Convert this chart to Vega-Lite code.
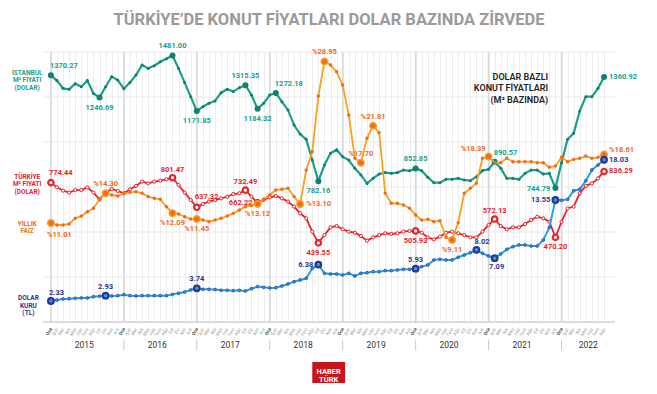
{
"$schema": "https://vega.github.io/schema/vega-lite/v6.json",
"width": 572, "height": 270,
"autosize": {"type": "none"},
"padding": {"left": 43, "top": 52, "right": 42, "bottom": 72},
"background": "white",
"config": {"view": {"stroke": null}, "font": "Roboto"},
"title": {"text": "TÜRKİYE’DE KONUT FİYATLARI DOLAR BAZINDA ZİRVEDE", "font": "Roboto", "fontSize": 16.5, "fontWeight": "bold", "color": "#9a9a9a", "anchor": "middle", "frame": "group", "offset": 14},
"datasets": {
"m": [
{"i":0,"ist":1370.27,"tr":774.44,"faiz":11.01,"usd":2.33},
{"i":1,"ist":1341,"tr":748,"faiz":10.78,"usd":2.44},
{"i":2,"ist":1298,"tr":730,"faiz":10.78,"usd":2.56},
{"i":3,"ist":1293,"tr":719,"faiz":10.89,"usd":2.59},
{"i":4,"ist":1324,"tr":733,"faiz":11.52,"usd":2.63},
{"i":5,"ist":1307,"tr":733,"faiz":11.78,"usd":2.67},
{"i":6,"ist":1341,"tr":748,"faiz":12.26,"usd":2.67},
{"i":7,"ist":1270,"tr":719,"faiz":12.63,"usd":2.81},
{"i":8,"ist":1246.69,"tr":681,"faiz":13.63,"usd":2.86},
{"i":9,"ist":1307,"tr":719,"faiz":14.30,"usd":2.93},
{"i":10,"ist":1363,"tr":739,"faiz":14.11,"usd":2.89},
{"i":11,"ist":1344,"tr":728,"faiz":14.00,"usd":2.93},
{"i":12,"ist":1296,"tr":715,"faiz":14.30,"usd":3.04},
{"i":13,"ist":1330,"tr":737,"faiz":14.41,"usd":2.93},
{"i":14,"ist":1372,"tr":756,"faiz":14.48,"usd":2.89},
{"i":15,"ist":1428,"tr":780,"faiz":14.30,"usd":2.93},
{"i":16,"ist":1409,"tr":770,"faiz":13.93,"usd":2.93},
{"i":17,"ist":1424,"tr":780,"faiz":13.74,"usd":2.93},
{"i":18,"ist":1446,"tr":785,"faiz":13.63,"usd":2.93},
{"i":19,"ist":1463,"tr":793,"faiz":12.81,"usd":2.93},
{"i":20,"ist":1481.00,"tr":801.47,"faiz":12.09,"usd":3.07},
{"i":21,"ist":1409,"tr":761,"faiz":12.00,"usd":3.19},
{"i":22,"ist":1330,"tr":719,"faiz":11.70,"usd":3.33},
{"i":23,"ist":1252,"tr":678,"faiz":11.44,"usd":3.56},
{"i":24,"ist":1171.85,"tr":637.32,"faiz":11.45,"usd":3.74},
{"i":25,"ist":1196,"tr":656,"faiz":11.33,"usd":3.63},
{"i":26,"ist":1215,"tr":669,"faiz":11.15,"usd":3.63},
{"i":27,"ist":1228,"tr":678,"faiz":11.33,"usd":3.60},
{"i":28,"ist":1274,"tr":687,"faiz":11.52,"usd":3.52},
{"i":29,"ist":1293,"tr":696,"faiz":11.78,"usd":3.52},
{"i":30,"ist":1280,"tr":711,"faiz":12.07,"usd":3.48},
{"i":31,"ist":1302,"tr":715,"faiz":12.44,"usd":3.52},
{"i":32,"ist":1315.35,"tr":732.49,"faiz":12.81,"usd":3.44},
{"i":33,"ist":1261,"tr":696,"faiz":12.95,"usd":3.70},
{"i":34,"ist":1184.32,"tr":662.22,"faiz":13.12,"usd":3.93},
{"i":35,"ist":1215,"tr":678,"faiz":13.63,"usd":3.85},
{"i":36,"ist":1261,"tr":693,"faiz":14.11,"usd":3.78},
{"i":37,"ist":1272.18,"tr":700,"faiz":14.67,"usd":3.81},
{"i":38,"ist":1224,"tr":687,"faiz":14.74,"usd":4.00},
{"i":39,"ist":1178,"tr":669,"faiz":14.85,"usd":4.22},
{"i":40,"ist":1094,"tr":641,"faiz":13.93,"usd":4.48},
{"i":41,"ist":1044,"tr":604,"faiz":13.10,"usd":4.67},
{"i":42,"ist":1015,"tr":576,"faiz":16.89,"usd":4.85},
{"i":43,"ist":900,"tr":502,"faiz":18.93,"usd":5.96},
{"i":44,"ist":782.16,"tr":439.55,"faiz":25.10,"usd":6.38},
{"i":45,"ist":872,"tr":483,"faiz":28.95,"usd":5.41},
{"i":46,"ist":937,"tr":526,"faiz":28.56,"usd":5.33},
{"i":47,"ist":957,"tr":533,"faiz":27.80,"usd":5.33},
{"i":48,"ist":918,"tr":515,"faiz":26.33,"usd":5.22},
{"i":49,"ist":900,"tr":502,"faiz":23.00,"usd":5.41},
{"i":50,"ist":854,"tr":496,"faiz":18.19,"usd":5.11},
{"i":51,"ist":817,"tr":478,"faiz":17.70,"usd":5.41},
{"i":52,"ist":770,"tr":452,"faiz":20.41,"usd":5.48},
{"i":53,"ist":798,"tr":470,"faiz":21.81,"usd":5.59},
{"i":54,"ist":822,"tr":483,"faiz":21.04,"usd":5.59},
{"i":55,"ist":830,"tr":493,"faiz":14.30,"usd":5.70},
{"i":56,"ist":826,"tr":489,"faiz":13.19,"usd":5.70},
{"i":57,"ist":830,"tr":493,"faiz":13.19,"usd":5.78},
{"i":58,"ist":844,"tr":502,"faiz":13.00,"usd":5.85},
{"i":59,"ist":840,"tr":506,"faiz":12.63,"usd":5.85},
{"i":60,"ist":852.85,"tr":505.93,"faiz":11.89,"usd":5.93},
{"i":61,"ist":840,"tr":496,"faiz":11.33,"usd":6.15},
{"i":62,"ist":804,"tr":470,"faiz":11.41,"usd":6.33},
{"i":63,"ist":774,"tr":459,"faiz":11.15,"usd":6.89},
{"i":64,"ist":774,"tr":474,"faiz":11.26,"usd":6.96},
{"i":65,"ist":793,"tr":496,"faiz":9.41,"usd":6.89},
{"i":66,"ist":793,"tr":502,"faiz":9.11,"usd":6.89},
{"i":67,"ist":798,"tr":493,"faiz":11.04,"usd":7.19},
{"i":68,"ist":789,"tr":483,"faiz":14.30,"usd":7.44},
{"i":69,"ist":785,"tr":470,"faiz":14.85,"usd":7.70},
{"i":70,"ist":807,"tr":470,"faiz":15.41,"usd":8.02},
{"i":71,"ist":841,"tr":502,"faiz":18.19,"usd":7.63},
{"i":72,"ist":848,"tr":539,"faiz":18.39,"usd":7.33},
{"i":73,"ist":890.57,"tr":572.13,"faiz":17.70,"usd":7.09},
{"i":74,"ist":854,"tr":533,"faiz":17.70,"usd":7.56},
{"i":75,"ist":798,"tr":515,"faiz":18.19,"usd":8.07},
{"i":76,"ist":798,"tr":526,"faiz":17.81,"usd":8.37},
{"i":77,"ist":793,"tr":526,"faiz":17.81,"usd":8.56},
{"i":78,"ist":826,"tr":544,"faiz":17.81,"usd":8.56},
{"i":79,"ist":844,"tr":567,"faiz":17.81,"usd":8.44},
{"i":80,"ist":844,"tr":585,"faiz":17.70,"usd":8.44},
{"i":81,"ist":822,"tr":576,"faiz":17.70,"usd":9.11},
{"i":82,"ist":826,"tr":557,"faiz":17.19,"usd":10.52},
{"i":83,"ist":744.79,"tr":470.20,"faiz":17.33,"usd":13.55},
{"i":84,"ist":885,"tr":557,"faiz":18.30,"usd":13.52},
{"i":85,"ist":1015,"tr":631,"faiz":17.81,"usd":13.63},
{"i":86,"ist":1048,"tr":641,"faiz":18.07,"usd":14.59},
{"i":87,"ist":1172,"tr":715,"faiz":18.19,"usd":14.74},
{"i":88,"ist":1252,"tr":756,"faiz":18.44,"usd":15.70},
{"i":89,"ist":1252,"tr":770,"faiz":18.19,"usd":16.89},
{"i":90,"ist":1298,"tr":798,"faiz":18.30,"usd":17.44},
{"i":91,"ist":1360.92,"tr":836.29,"faiz":18.61,"usd":18.03}
],
"years": [{"i":5.5,"year":"2015"},{"i":17.5,"year":"2016"},{"i":29.5,"year":"2017"},{"i":41.5,"year":"2018"},{"i":53.5,"year":"2019"},{"i":65.5,"year":"2020"},{"i":77.5,"year":"2021"},{"i":88.4,"year":"2022"}],
"jan": [{"i":0},{"i":12},{"i":24},{"i":36},{"i":48},{"i":60},{"i":72},{"i":84}],
"seps": [{"i":12},{"i":24},{"i":36},{"i":48},{"i":60},{"i":72},{"i":84}],
"hgrid": [{"r":0},{"r":5},{"r":10},{"r":15},{"r":20},{"r":25},{"r":30}]
},
"data": {"name": "m"},
"encoding": {
"x": {"field": "i", "type": "quantitative", "scale": {"domain": [-1.3, 92.8], "nice": false, "zero": false},
 "axis": {"title": null, "values": [0,1,2,3,4,5,6,7,8,9,10,11,12,13,14,15,16,17,18,19,20,21,22,23,24,25,26,27,28,29,30,31,32,33,34,35,36,37,38,39,40,41,42,43,44,45,46,47,48,49,50,51,52,53,54,55,56,57,58,59,60,61,62,63,64,65,66,67,68,69,70,71,72,73,74,75,76,77,78,79,80,81,82,83,84,85,86,87,88,89,90,91],
  "labelExpr": "['Oca','Şub','Mar','Nis','May','Haz','Tem','Ağu','Eyl','Eki','Kas','Ara'][datum.value % 12]",
  "labelAngle": -60, "labelFontSize": 4.5, "labelFont": "Roboto", "labelPadding": 6, "labelOverlap": false, "labelFlush": false, "labelBound": false,
  "labelColor": {"condition": {"test": "datum.value % 12 === 0", "value": "#333333"}, "value": "#9a9a9a"},
  "labelFontWeight": {"condition": {"test": "datum.value % 12 === 0", "value": "bold"}, "value": "normal"},
  "ticks": false, "domain": false, "grid": true, "gridColor": "#e9e9e9", "gridWidth": 0.8, "gridOpacity": 1}}
},
"layer": [
 {"data": {"name": "jan"}, "mark": {"type": "rule", "color": "#d9d9d9", "strokeWidth": 1.6},
  "encoding": {"y": {"datum": 0, "type": "quantitative", "scale": {"domain": [0, 30], "nice": false, "zero": false}, "axis": null}, "y2": {"datum": 30}}},
 {"data": {"name": "hgrid"}, "mark": {"type": "rule", "color": "#e6e6e6", "strokeWidth": 0.9},
  "encoding": {"x": null, "y": {"field": "r", "type": "quantitative", "scale": {"domain": [0, 30], "nice": false, "zero": false}, "axis": null}}},
 {"data": {"name": "hgrid"}, "transform": [{"filter": "datum.r === 0"}], "mark": {"type": "rule", "color": "#d4d4d4", "strokeWidth": 1.5},
  "encoding": {"x": null, "y": {"field": "r", "type": "quantitative", "scale": {"domain": [0, 30], "nice": false, "zero": false}, "axis": null}}},
 {"mark": {"type": "line", "color": "#1aa08a", "strokeWidth": 2.2},
  "encoding": {"y": {"field": "ist", "type": "quantitative", "scale": {"domain": [0, 1500], "nice": false, "zero": false}, "axis": null}}},
 {"mark": {"type": "point", "shape": "circle", "filled": true, "size": 9, "color": "#137f6e", "opacity": 1},
  "encoding": {"y": {"field": "ist", "type": "quantitative", "scale": {"domain": [0, 1500], "nice": false, "zero": false}, "axis": null}}},
 {"transform": [{"filter": {"field": "i", "oneOf": [0,8,20,24,32,34,37,44,60,73,83,91]}}],
  "mark": {"type": "point", "shape": "circle", "filled": true, "size": 36, "color": "#137f6e", "opacity": 1},
  "encoding": {"y": {"field": "ist", "type": "quantitative", "scale": {"domain": [0, 1500], "nice": false, "zero": false}, "axis": null}}},
 {"transform": [{"filter": {"field": "i", "oneOf": [20,32,60]}}],
  "mark": {"type": "text", "fontWeight": "bold", "fontSize": 7.5, "color": "#1aa08a", "dy": -9, "align": "center", "baseline": "middle"},
  "encoding": {"y": {"field": "ist", "type": "quantitative", "scale": {"domain": [0, 1500], "nice": false, "zero": false}, "axis": null}, "text": {"field": "ist", "type": "quantitative", "format": ".2f"}}},
 {"transform": [{"filter": {"field": "i", "oneOf": [8,24,34,44]}}],
  "mark": {"type": "text", "fontWeight": "bold", "fontSize": 7.5, "color": "#1aa08a", "dy": 10, "align": "center", "baseline": "middle"},
  "encoding": {"y": {"field": "ist", "type": "quantitative", "scale": {"domain": [0, 1500], "nice": false, "zero": false}, "axis": null}, "text": {"field": "ist", "type": "quantitative", "format": ".2f"}}},
 {"transform": [{"filter": {"field": "i", "oneOf": [0,37,73]}}],
  "mark": {"type": "text", "fontWeight": "bold", "fontSize": 7.5, "color": "#1aa08a", "dx": -1, "dy": -9, "align": "left", "baseline": "middle"},
  "encoding": {"y": {"field": "ist", "type": "quantitative", "scale": {"domain": [0, 1500], "nice": false, "zero": false}, "axis": null}, "text": {"field": "ist", "type": "quantitative", "format": ".2f"}}},
 {"transform": [{"filter": {"field": "i", "oneOf": [83]}}],
  "mark": {"type": "text", "fontWeight": "bold", "fontSize": 7.5, "color": "#1aa08a", "dx": -5, "dy": 1, "align": "right", "baseline": "middle"},
  "encoding": {"y": {"field": "ist", "type": "quantitative", "scale": {"domain": [0, 1500], "nice": false, "zero": false}, "axis": null}, "text": {"field": "ist", "type": "quantitative", "format": ".2f"}}},
 {"transform": [{"filter": {"field": "i", "oneOf": [91]}}],
  "mark": {"type": "text", "fontWeight": "bold", "fontSize": 7.5, "color": "#1aa08a", "dx": 5, "align": "left", "baseline": "middle"},
  "encoding": {"y": {"field": "ist", "type": "quantitative", "scale": {"domain": [0, 1500], "nice": false, "zero": false}, "axis": null}, "text": {"field": "ist", "type": "quantitative", "format": ".2f"}}},

 {"mark": {"type": "line", "color": "#e8232b", "strokeWidth": 1.8},
  "encoding": {"y": {"field": "tr", "type": "quantitative", "scale": {"domain": [0, 1500], "nice": false, "zero": false}, "axis": null}}},
 {"mark": {"type": "point", "shape": "circle", "filled": true, "size": 10, "fill": "white", "stroke": "#e8232b", "strokeWidth": 1, "opacity": 1},
  "encoding": {"y": {"field": "tr", "type": "quantitative", "scale": {"domain": [0, 1500], "nice": false, "zero": false}, "axis": null}}},
 {"transform": [{"filter": {"field": "i", "oneOf": [0,20,24,32,34,44,60,73,83,91]}}],
  "mark": {"type": "point", "shape": "circle", "filled": true, "size": 30, "fill": "white", "stroke": "#e8232b", "strokeWidth": 2.2, "opacity": 1},
  "encoding": {"y": {"field": "tr", "type": "quantitative", "scale": {"domain": [0, 1500], "nice": false, "zero": false}, "axis": null}}},
 {"transform": [{"filter": {"field": "i", "oneOf": [20,32,73]}}],
  "mark": {"type": "text", "fontWeight": "bold", "fontSize": 7.5, "color": "#e8232b", "dy": -8, "align": "center", "baseline": "middle"},
  "encoding": {"y": {"field": "tr", "type": "quantitative", "scale": {"domain": [0, 1500], "nice": false, "zero": false}, "axis": null}, "text": {"field": "tr", "type": "quantitative", "format": ".2f"}}},
 {"transform": [{"filter": {"field": "i", "oneOf": [44,60,83]}}],
  "mark": {"type": "text", "fontWeight": "bold", "fontSize": 7.5, "color": "#e8232b", "dy": 10, "align": "center", "baseline": "middle"},
  "encoding": {"y": {"field": "tr", "type": "quantitative", "scale": {"domain": [0, 1500], "nice": false, "zero": false}, "axis": null}, "text": {"field": "tr", "type": "quantitative", "format": ".2f"}}},
 {"transform": [{"filter": {"field": "i", "oneOf": [0,24]}}],
  "mark": {"type": "text", "fontWeight": "bold", "fontSize": 7.5, "color": "#e8232b", "dx": -2, "dy": -10, "align": "left", "baseline": "middle"},
  "encoding": {"y": {"field": "tr", "type": "quantitative", "scale": {"domain": [0, 1500], "nice": false, "zero": false}, "axis": null}, "text": {"field": "tr", "type": "quantitative", "format": ".2f"}}},
 {"transform": [{"filter": {"field": "i", "oneOf": [34]}}],
  "mark": {"type": "text", "fontWeight": "bold", "fontSize": 7.5, "color": "#e8232b", "dx": -5, "align": "right", "baseline": "middle"},
  "encoding": {"y": {"field": "tr", "type": "quantitative", "scale": {"domain": [0, 1500], "nice": false, "zero": false}, "axis": null}, "text": {"field": "tr", "type": "quantitative", "format": ".2f"}}},
 {"transform": [{"filter": {"field": "i", "oneOf": [91]}}],
  "mark": {"type": "text", "fontWeight": "bold", "fontSize": 7.5, "color": "#e8232b", "dx": 5, "align": "left", "baseline": "middle"},
  "encoding": {"y": {"field": "tr", "type": "quantitative", "scale": {"domain": [0, 1500], "nice": false, "zero": false}, "axis": null}, "text": {"field": "tr", "type": "quantitative", "format": ".2f"}}},

 {"mark": {"type": "line", "color": "#f8a11f", "strokeWidth": 1.8},
  "encoding": {"y": {"field": "faiz", "type": "quantitative", "scale": {"domain": [0, 30], "nice": false, "zero": false}, "axis": null}}},
 {"mark": {"type": "point", "shape": "circle", "filled": true, "size": 12, "color": "#f26a21", "opacity": 1},
  "encoding": {"y": {"field": "faiz", "type": "quantitative", "scale": {"domain": [0, 30], "nice": false, "zero": false}, "axis": null}}},
 {"transform": [{"filter": {"field": "i", "oneOf": [0,9,20,24,34,41,45,51,53,66,72,91]}}],
  "mark": {"type": "point", "shape": "circle", "filled": true, "size": 42, "fill": "#f26a21", "stroke": "#f8a11f", "strokeWidth": 1.5, "opacity": 1},
  "encoding": {"y": {"field": "faiz", "type": "quantitative", "scale": {"domain": [0, 30], "nice": false, "zero": false}, "axis": null}}},
 {"transform": [{"filter": {"field": "i", "oneOf": [9,45,51,53]}}, {"calculate": "'%' + format(datum.faiz, '.2f')", "as": "lab"}],
  "mark": {"type": "text", "fontWeight": "bold", "fontSize": 7.5, "color": "#f26a21", "dy": -9, "align": "center", "baseline": "middle"},
  "encoding": {"y": {"field": "faiz", "type": "quantitative", "scale": {"domain": [0, 30], "nice": false, "zero": false}, "axis": null}, "text": {"field": "lab"}}},
 {"transform": [{"filter": {"field": "i", "oneOf": [20,24,34,66]}}, {"calculate": "'%' + format(datum.faiz, '.2f')", "as": "lab"}],
  "mark": {"type": "text", "fontWeight": "bold", "fontSize": 7.5, "color": "#f26a21", "dy": 10, "align": "center", "baseline": "middle"},
  "encoding": {"y": {"field": "faiz", "type": "quantitative", "scale": {"domain": [0, 30], "nice": false, "zero": false}, "axis": null}, "text": {"field": "lab"}}},
 {"transform": [{"filter": {"field": "i", "oneOf": [0]}}, {"calculate": "'%' + format(datum.faiz, '.2f')", "as": "lab"}],
  "mark": {"type": "text", "fontWeight": "bold", "fontSize": 7.5, "color": "#f26a21", "dx": -4, "dy": 12, "align": "left", "baseline": "middle"},
  "encoding": {"y": {"field": "faiz", "type": "quantitative", "scale": {"domain": [0, 30], "nice": false, "zero": false}, "axis": null}, "text": {"field": "lab"}}},
 {"transform": [{"filter": {"field": "i", "oneOf": [41]}}, {"calculate": "'%' + format(datum.faiz, '.2f')", "as": "lab"}],
  "mark": {"type": "text", "fontWeight": "bold", "fontSize": 7.5, "color": "#f26a21", "dx": 6, "align": "left", "baseline": "middle"},
  "encoding": {"y": {"field": "faiz", "type": "quantitative", "scale": {"domain": [0, 30], "nice": false, "zero": false}, "axis": null}, "text": {"field": "lab"}}},
 {"transform": [{"filter": {"field": "i", "oneOf": [91]}}, {"calculate": "'%' + format(datum.faiz, '.2f')", "as": "lab"}],
  "mark": {"type": "text", "fontWeight": "bold", "fontSize": 7.5, "color": "#f26a21", "dx": 5, "dy": -5, "align": "left", "baseline": "middle"},
  "encoding": {"y": {"field": "faiz", "type": "quantitative", "scale": {"domain": [0, 30], "nice": false, "zero": false}, "axis": null}, "text": {"field": "lab"}}},
 {"transform": [{"filter": {"field": "i", "oneOf": [72]}}, {"calculate": "'%' + format(datum.faiz, '.2f')", "as": "lab"}],
  "mark": {"type": "text", "fontWeight": "bold", "fontSize": 7.5, "color": "#f26a21", "dx": -3, "dy": -7, "align": "right", "baseline": "middle"},
  "encoding": {"y": {"field": "faiz", "type": "quantitative", "scale": {"domain": [0, 30], "nice": false, "zero": false}, "axis": null}, "text": {"field": "lab"}}},

 {"mark": {"type": "line", "color": "#27a3e3", "strokeWidth": 2},
  "encoding": {"y": {"field": "usd", "type": "quantitative", "scale": {"domain": [0, 30], "nice": false, "zero": false}, "axis": null}}},
 {"mark": {"type": "point", "shape": "circle", "filled": true, "size": 8, "fill": "#27a3e3", "stroke": "#2e3591", "strokeWidth": 0.7, "opacity": 1},
  "encoding": {"y": {"field": "usd", "type": "quantitative", "scale": {"domain": [0, 30], "nice": false, "zero": false}, "axis": null}}},
 {"transform": [{"filter": {"field": "i", "oneOf": [0,9,24,44,60,70,73,83,91]}}],
  "mark": {"type": "point", "shape": "circle", "filled": true, "size": 32, "fill": "#27a3e3", "stroke": "#2e3591", "strokeWidth": 2.2, "opacity": 1},
  "encoding": {"y": {"field": "usd", "type": "quantitative", "scale": {"domain": [0, 30], "nice": false, "zero": false}, "axis": null}}},
 {"transform": [{"filter": {"field": "i", "oneOf": [9,24,60]}}],
  "mark": {"type": "text", "fontWeight": "bold", "fontSize": 7.5, "color": "#2e3591", "dy": -9, "align": "center", "baseline": "middle"},
  "encoding": {"y": {"field": "usd", "type": "quantitative", "scale": {"domain": [0, 30], "nice": false, "zero": false}, "axis": null}, "text": {"field": "usd", "type": "quantitative", "format": ".2f"}}},
 {"transform": [{"filter": {"field": "i", "oneOf": [0,70]}}],
  "mark": {"type": "text", "fontWeight": "bold", "fontSize": 7.5, "color": "#2e3591", "dx": -2, "dy": -8, "align": "left", "baseline": "middle"},
  "encoding": {"y": {"field": "usd", "type": "quantitative", "scale": {"domain": [0, 30], "nice": false, "zero": false}, "axis": null}, "text": {"field": "usd", "type": "quantitative", "format": ".2f"}}},
 {"transform": [{"filter": {"field": "i", "oneOf": [44,83]}}],
  "mark": {"type": "text", "fontWeight": "bold", "fontSize": 7.5, "color": "#2e3591", "dx": -5, "align": "right", "baseline": "middle"},
  "encoding": {"y": {"field": "usd", "type": "quantitative", "scale": {"domain": [0, 30], "nice": false, "zero": false}, "axis": null}, "text": {"field": "usd", "type": "quantitative", "format": ".2f"}}},
 {"transform": [{"filter": {"field": "i", "oneOf": [73]}}],
  "mark": {"type": "text", "fontWeight": "bold", "fontSize": 7.5, "color": "#2e3591", "dx": 2, "dy": 9, "align": "center", "baseline": "middle"},
  "encoding": {"y": {"field": "usd", "type": "quantitative", "scale": {"domain": [0, 30], "nice": false, "zero": false}, "axis": null}, "text": {"field": "usd", "type": "quantitative", "format": ".2f"}}},
 {"transform": [{"filter": {"field": "i", "oneOf": [91]}}],
  "mark": {"type": "text", "fontWeight": "bold", "fontSize": 7.5, "color": "#2e3591", "dx": 5, "align": "left", "baseline": "middle"},
  "encoding": {"y": {"field": "usd", "type": "quantitative", "scale": {"domain": [0, 30], "nice": false, "zero": false}, "axis": null}, "text": {"field": "usd", "type": "quantitative", "format": ".2f"}}},

 {"data": {"values": [{"i": -3.9}]}, "mark": {"type": "text", "fontWeight": "bold", "fontSize": 6.5, "lineHeight": 7.6, "lineBreak": "\n", "color": "#1aa08a", "align": "center", "baseline": "middle", "text": "İSTANBUL\nM² FİYATI\n(DOLAR)"},
  "encoding": {"y": {"datum": 27.7, "type": "quantitative", "scale": {"domain": [0, 30], "nice": false, "zero": false}, "axis": null}}},
 {"data": {"values": [{"i": -3.9}]}, "mark": {"type": "text", "fontWeight": "bold", "fontSize": 6.5, "lineHeight": 7.6, "lineBreak": "\n", "color": "#e8232b", "align": "center", "baseline": "middle", "text": "TÜRKİYE\nM² FİYATI\n(DOLAR)"},
  "encoding": {"y": {"datum": 16.15, "type": "quantitative", "scale": {"domain": [0, 30], "nice": false, "zero": false}, "axis": null}}},
 {"data": {"values": [{"i": -3.9}]}, "mark": {"type": "text", "fontWeight": "bold", "fontSize": 6.5, "lineHeight": 7.6, "lineBreak": "\n", "color": "#f26a21", "align": "center", "baseline": "middle", "text": "YILLIK\nFAİZ"},
  "encoding": {"y": {"datum": 10.9, "type": "quantitative", "scale": {"domain": [0, 30], "nice": false, "zero": false}, "axis": null}}},
 {"data": {"values": [{"i": -3.7}]}, "mark": {"type": "text", "fontWeight": "bold", "fontSize": 6.5, "lineHeight": 7.6, "lineBreak": "\n", "color": "#2e3591", "align": "center", "baseline": "middle", "text": "DOLAR\nKURU\n(TL)"},
  "encoding": {"y": {"datum": 2.67, "type": "quantitative", "scale": {"domain": [0, 30], "nice": false, "zero": false}, "axis": null}}},
 {"data": {"values": [{"i": 81.8}]}, "mark": {"type": "text", "fontWeight": 600, "fontSize": 9, "lineHeight": 11.6, "lineBreak": "\n", "color": "#222222", "align": "right", "baseline": "middle", "text": "DOLAR BAZLI\nKONUT FİYATLARI\n(M² BAZINDA)"},
  "encoding": {"y": {"datum": 27.26, "type": "quantitative", "scale": {"domain": [0, 30], "nice": false, "zero": false}, "axis": null}}},
 {"data": {"name": "years"}, "mark": {"type": "text", "fontSize": 8.5, "fontWeight": "normal", "color": "#333333", "align": "center", "baseline": "middle"},
  "encoding": {"y": {"datum": -2.6, "type": "quantitative", "scale": {"domain": [0, 30], "nice": false, "zero": false}, "axis": null}, "text": {"field": "year"}}},
 {"data": {"name": "seps"}, "mark": {"type": "rule", "color": "#c4c4c4", "strokeWidth": 0.9},
  "encoding": {"y": {"datum": -1.95, "type": "quantitative", "scale": {"domain": [0, 30], "nice": false, "zero": false}, "axis": null}, "y2": {"datum": -3.15}}},
 {"data": {"values": [{"i": 43.0, "i2": 48.4}]}, "mark": {"type": "rect", "color": "#c5161d"},
  "encoding": {"x2": {"field": "i2"}, "y": {"datum": -4.44, "type": "quantitative", "scale": {"domain": [0, 30], "nice": false, "zero": false}, "axis": null}, "y2": {"datum": -6.78}}},
 {"data": {"values": [{"i": 45.7}]}, "mark": {"type": "text", "fontWeight": "bold", "fontSize": 7.5, "lineHeight": 8, "lineBreak": "\n", "color": "white", "align": "center", "baseline": "middle", "text": "HABER\nTÜRK"},
  "encoding": {"y": {"datum": -5.61, "type": "quantitative", "scale": {"domain": [0, 30], "nice": false, "zero": false}, "axis": null}}}
],
"resolve": {"scale": {"y": "independent"}}
}
